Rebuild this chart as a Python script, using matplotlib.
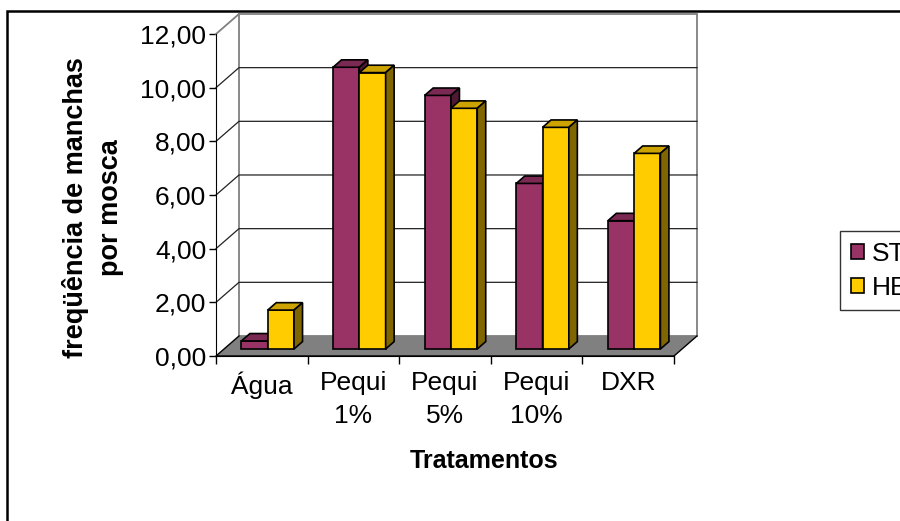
import matplotlib
matplotlib.use("Agg")
import matplotlib.pyplot as plt
from matplotlib.patches import Polygon, Patch, Rectangle

plt.rcParams['font.family'] = ['Liberation Sans', 'DejaVu Sans']

categories = ['Água', 'Pequi\n1%', 'Pequi\n5%', 'Pequi\n10%', 'DXR']
st_values = [0.30, 10.50, 9.45, 6.17, 4.78]
hb_values = [1.45, 10.30, 8.97, 8.26, 7.29]
series_names = ['ST', 'HB']
yticks = [0, 2, 4, 6, 8, 10, 12]
ytick_labels = ['0,00', '2,00', '4,00', '6,00', '8,00', '10,00', '12,00']

# oblique "3d" look like the excel chart
DX, DY = 0.251, 0.746          # depth offset of the back wall (category / value units)
Z0, Z1 = 0.35, 0.72            # bar depth range
BAR_W = 0.287
BAR_START = 0.19

front_cols = ['#993366', '#FFCC00']
top_cols = ['#7a2952', '#cca300']
side_cols = ['#4d1933', '#806600']


def proj(x, y, z):
    return (x + z * DX, y + z * DY)


fig = plt.figure(figsize=(9, 5.21), dpi=100)
ax = fig.add_axes([216 / 900, 1 - 356 / 521, 458 / 900, 322 / 521])
ax.set_xlim(0, len(categories))
ax.set_ylim(0, 12)
ax.patch.set_visible(False)

n = len(categories)
ymax = yticks[-1]

# left wall and back wall
left_wall = [proj(0, 0, 0), proj(0, ymax, 0), proj(0, ymax, 1), proj(0, 0, 1)]
ax.add_patch(Polygon(left_wall, closed=True, facecolor='white', edgecolor='none', clip_on=False, zorder=1))
back_wall = [proj(0, 0, 1), proj(0, ymax, 1), proj(n, ymax, 1), proj(n, 0, 1)]
ax.add_patch(Polygon(back_wall, closed=True, facecolor='white', edgecolor='#808080', lw=1.3, clip_on=False, zorder=1))
ax.plot(*zip(proj(0, ymax, 0), proj(0, ymax, 1)), color='#808080', lw=1.3, clip_on=False, zorder=2)

# gridlines
for t in yticks[1:-1]:
    ax.plot(*zip(proj(0, t, 0), proj(0, t, 1), proj(n, t, 1)), color='#222222', lw=0.9, clip_on=False, zorder=2)

# floor
floor = [proj(0, 0, 0), proj(n, 0, 0), proj(n, 0, 1), proj(0, 0, 1)]
ax.add_patch(Polygon(floor, closed=True, facecolor='#808080', edgecolor='none', clip_on=False, zorder=2))
ax.plot(*zip(proj(0, 0, 1), proj(0, 0, 0), proj(n, 0, 0), proj(n, 0, 1)), color='black', lw=1.0, clip_on=False, zorder=3)

# bars
for i in range(n):
    for s, vals in enumerate([st_values, hb_values]):
        h = vals[i]
        x0 = i + BAR_START + s * BAR_W
        x1 = x0 + BAR_W
        front = [proj(x0, 0, Z0), proj(x0, h, Z0), proj(x1, h, Z0), proj(x1, 0, Z0)]
        top = [proj(x0, h, Z0), proj(x0, h, Z1), proj(x1, h, Z1), proj(x1, h, Z0)]
        side = [proj(x1, 0, Z0), proj(x1, h, Z0), proj(x1, h, Z1), proj(x1, 0, Z1)]
        for poly, c in [(front, front_cols[s]), (top, top_cols[s]), (side, side_cols[s])]:
            ax.add_patch(Polygon(poly, closed=True, facecolor=c, edgecolor='black', lw=1.2,
                                 joinstyle='miter', clip_on=False, zorder=4))

# axes
for sp in ['top', 'right']:
    ax.spines[sp].set_visible(False)
ax.spines['left'].set_color('black')
ax.spines['bottom'].set_color('black')
ax.spines['left'].set_zorder(5)
ax.spines['bottom'].set_zorder(5)
ax.set_yticks(yticks)
ax.set_yticklabels(ytick_labels)
ax.tick_params(axis='y', direction='out', length=5, width=1, pad=2, labelsize=19)
ax.set_xticks(range(n + 1))
ax.set_xticklabels([''] * (n + 1))
ax.set_xticks([i + 0.5 for i in range(n)], minor=True)
ax.set_xticklabels(categories, minor=True, fontsize=19, linespacing=1.45, va='top')
ax.tick_params(axis='x', which='major', direction='out', length=6, width=1)
ax.tick_params(axis='x', which='minor', length=0, pad=11)

fig.text(484 / 900, 1 - 461 / 521, 'Tratamentos', fontsize=18, fontweight='bold', ha='center', va='center')
fig.text(93 / 900, 1 - 208 / 521, 'freqüência de manchas\npor mosca', fontsize=19.5, fontweight='bold',
         rotation=90, ha='center', va='center', linespacing=1.45, multialignment='center')

handles = [Patch(facecolor=front_cols[k], edgecolor='black', lw=1.2) for k in range(2)]
leg = fig.legend(handles, series_names, loc='upper left', bbox_to_anchor=(840 / 900, 1 - 231 / 521),
                 fontsize=19, frameon=True, fancybox=False, edgecolor='black', handlelength=0.5,
                 handleheight=0.5, handletextpad=0.3, labelspacing=0.38, borderpad=0.4, borderaxespad=0)
leg.get_frame().set_linewidth(1.0)

# chart border
fig.patches.append(Rectangle((7 / 900, -0.1), 1.2, 1 - 11 / 521 + 0.1, transform=fig.transFigure,
                             fill=False, edgecolor='black', lw=1.8))

fig.savefig('out.png', dpi=100)
